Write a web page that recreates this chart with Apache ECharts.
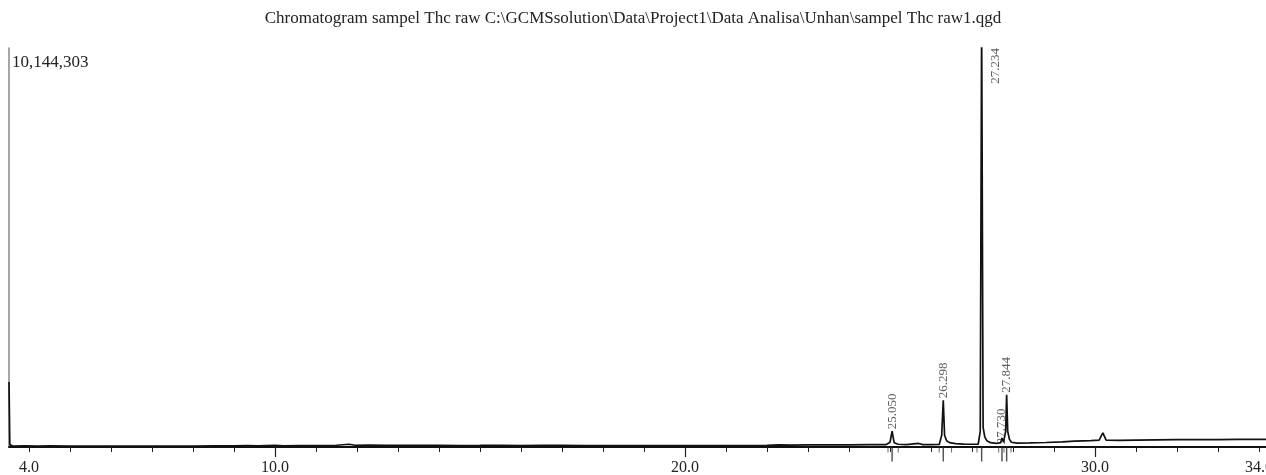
<!DOCTYPE html>
<html>
<head>
<meta charset="utf-8">
<script src="https://cdn.jsdelivr.net/npm/echarts@6/dist/echarts.min.js"></script>
<style>
html,body{margin:0;padding:0;background:#fff;}
#chart{width:1266px;height:475px;}
</style>
</head>
<body>
<div id="chart"></div>
<script>
// ---- data ----
var titleText = 'Chromatogram sampel Thc raw C:\\GCMSsolution\\Data\\Project1\\Data Analisa\\Unhan\\sampel Thc raw1.qgd';
var yFullScale = 10144303;
var xMin = 3.51, xMax = 34.17;
var xLabelTicks = [4, 10, 20, 30, 34];
var xMinorTicks = [4,5,6,7,8,9,10,11,12,13,14,15,16,17,18,19,20,21,22,23,24,25,26,27,28,29,30,31,32,33,34];
var xMajorTicks = [10, 20, 30];

var retention = [3.51,3.53,3.6,3.9,4.2,4.5,5.0,5.5,6.0,6.5,7.0,7.5,8.0,8.5,9.0,9.3,9.6,10.0,10.2,10.6,11.0,11.5,11.8,11.95,12.3,12.7,13.0,13.5,14.0,14.5,15.0,15.5,16.0,16.5,17.0,17.5,18.0,18.5,19.0,19.5,20.0,20.5,21.0,21.5,22.0,22.3,22.6,23.0,23.5,24.0,24.5,24.9,25.0,25.05,25.1,25.2,25.4,25.7,25.8,26.0,26.2,26.26,26.298,26.33,26.38,26.45,26.6,26.8,27.0,27.15,27.2,27.234,27.27,27.31,27.36,27.45,27.6,27.7,27.73,27.77,27.82,27.844,27.87,27.91,27.96,28.1,28.4,28.8,29.2,29.5,29.9,30.1,30.19,30.27,30.6,31.0,31.5,32.0,32.5,33.0,33.5,34.17];
var signal = [1650000,60000,25000,30000,22000,28000,24000,26000,22000,25000,23000,26000,24000,27000,30000,35000,28000,40000,30000,33000,36000,45000,70000,45000,50000,42000,45000,40000,42000,38000,40000,45000,38000,42000,40000,38000,36000,38000,35000,36000,35000,36000,36000,38000,40000,55000,50000,52000,55000,55000,58000,60000,120000,400000,110000,70000,60000,90000,62000,60000,65000,300000,1190000,300000,160000,110000,85000,75000,70000,70000,400000,10900000,500000,260000,160000,110000,90000,110000,230000,130000,400000,1330000,400000,200000,120000,100000,105000,115000,130000,150000,160000,175000,360000,175000,170000,175000,180000,185000,188000,190000,192000,195000];

var peakRt = [25.050, 26.298, 27.234, 27.730, 27.844];
var peakLabelAt = [400000, 1190000, 10144303, 20000, 1330000];
var integrationMarks = [24.95, 25.2, 26.2, 26.5, 27.12, 27.65, 27.78, 27.95];

// ---- chart ----
var chart = echarts.init(document.getElementById('chart'), null, {renderer: 'canvas'});

var linePts = retention.map(function (t, i) { return [t, signal[i]]; });
var labelPts = peakRt.map(function (t, i) {
  var item = { value: [t, peakLabelAt[i]] };
  if (peakLabelAt[i] >= yFullScale) {
    item.label = { position: 'right', distance: 14, align: 'right', verticalAlign: 'middle', rotate: 90 };
  }
  return item;
});
var markerPts = peakRt.map(function (t) { return [t, 0]; });
var intPts = integrationMarks.map(function (t) { return [t, 0]; });

var serif = '"Liberation Serif", "DejaVu Serif", serif';

var option = {
  animation: false,
  backgroundColor: '#ffffff',
  title: {
    text: titleText,
    left: 'center',
    top: 5,
    textStyle: { fontFamily: serif, fontSize: 17, fontWeight: 'normal', color: '#222' }
  },
  grid: { left: 9, right: 0, top: 48, bottom: 28, containLabel: false, outerBoundsMode: 'none' },
  xAxis: [{
    type: 'value', min: xMin, max: xMax,
    axisLine: { show: true, onZero: false, lineStyle: { color: '#111', width: 2 } },
    axisTick: { show: true, customValues: xMinorTicks, length: 5, lineStyle: { color: '#222', width: 1 } },
    axisLabel: { show: true, customValues: xLabelTicks, margin: 13, fontFamily: serif, fontSize: 16, color: '#222',
      formatter: function (v) { return v.toFixed(1); } },
    splitLine: { show: false }
  }, {
    type: 'value', min: xMin, max: xMax, position: 'bottom',
    axisLine: { show: false },
    axisTick: { show: true, customValues: xMajorTicks, length: 10, lineStyle: { color: '#222', width: 1.2 } },
    axisLabel: { show: false },
    splitLine: { show: false }
  }],
  yAxis: {
    type: 'value', min: 0, max: yFullScale,
    axisLine: { show: true, lineStyle: { color: '#888', width: 1.5 } },
    axisTick: { show: false },
    splitLine: { show: false },
    axisLabel: {
      show: true, inside: true, customValues: [yFullScale], margin: 3,
      verticalAlign: 'top', padding: [6, 0, 0, 0],
      fontFamily: serif, fontSize: 17, color: '#222',
      formatter: function (v) { return Math.round(v).toLocaleString('en-US'); }
    }
  },
  series: [{
    type: 'line', data: linePts, showSymbol: false, symbol: 'none', clip: true,
    lineStyle: { color: '#111', width: 1.7 }, z: 5
  }, {
    type: 'scatter', data: markerPts, symbol: 'rect', symbolSize: [1.4, 15], symbolOffset: [0, 7],
    itemStyle: { color: '#222' }, clip: false, silent: true, z: 4
  }, {
    type: 'scatter', data: intPts, symbol: 'rect', symbolSize: [1, 5], symbolOffset: [0, 3],
    itemStyle: { color: '#444' }, clip: false, silent: true, z: 4
  }, {
    type: 'scatter', data: labelPts, symbolSize: 0.1, itemStyle: { color: 'transparent' }, clip: false, z: 6,
    label: {
      show: true, position: 'top', distance: 2, rotate: 90, align: 'left', verticalAlign: 'middle',
      fontFamily: serif, fontSize: 13, color: '#333',
      formatter: function (p) { return p.value[0].toFixed(3); }
    }
  }]
};
chart.setOption(option);
</script>
</body>
</html>
